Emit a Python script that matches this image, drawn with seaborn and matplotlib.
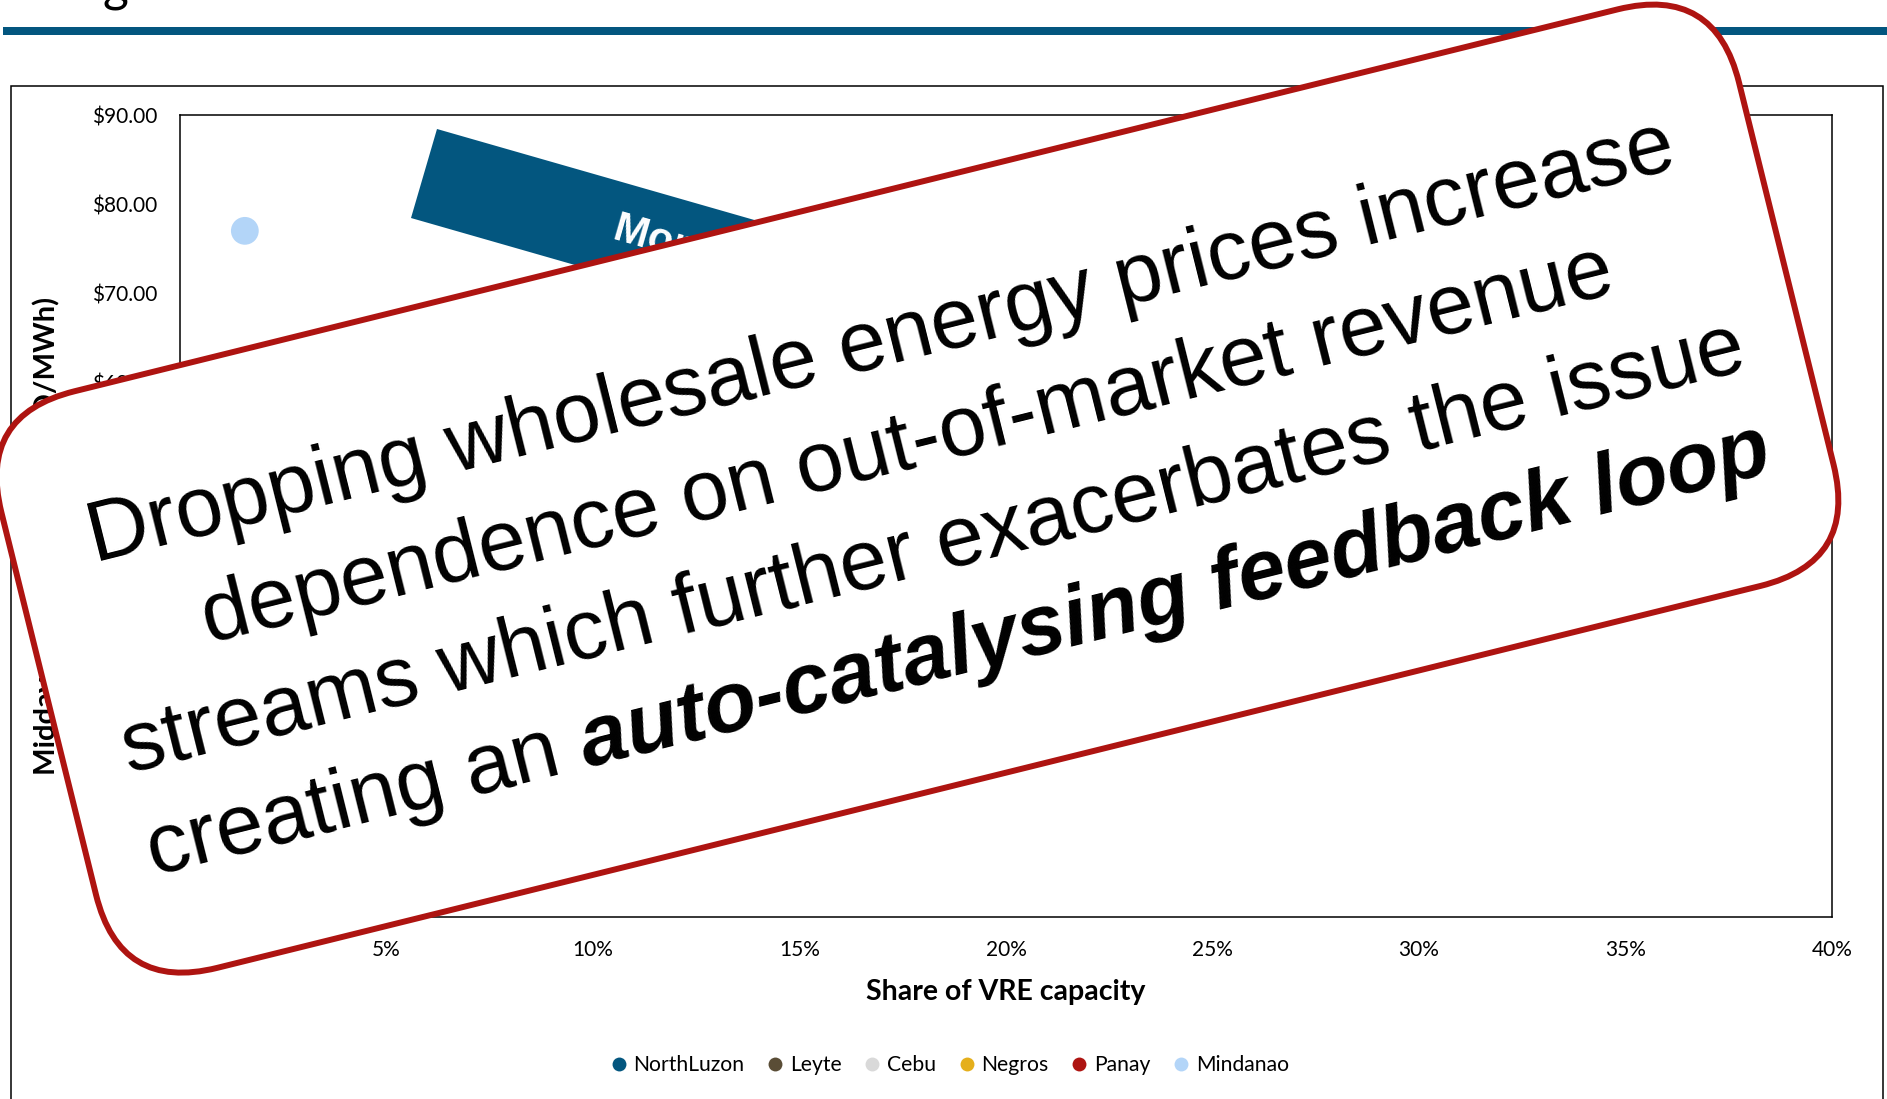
import numpy as np
import pandas as pd
import matplotlib.pyplot as plt
import matplotlib.patches as mpatches
import matplotlib.transforms as mtransforms
from matplotlib.ticker import FuncFormatter
import seaborn as sns

# series (only Mindanao is visible, the rest sit under the callout)
regions = ['NorthLuzon', 'Leyte', 'Cebu', 'Negros', 'Panay', 'Mindanao']
vre_share = [0.12, 0.33, 0.17, 0.22, 0.27, 0.0157]
midday_price = [55.0, 42.0, 48.0, 40.0, 35.0, 77.0]
region_colors = ['#03567F', '#5A4D36', '#D9D9D9', '#E5AF1B', '#AE1411', '#B3D5F8']

x_ticks = [0.0, 0.05, 0.10, 0.15, 0.20, 0.25, 0.30, 0.35, 0.40]
y_ticks = [0, 10, 20, 30, 40, 50, 60, 70, 80, 90]

x_title = 'Share of VRE capacity'
y_title = 'Midday wholesale price (USD/MWh)'
banner_text = 'More VRE, lower midday prices'
callout_lines = [
    [('Dropping wholesale energy prices increase', 'normal', 'normal')],
    [('dependence on out-of-market revenue', 'normal', 'normal')],
    [('streams which further exacerbates the issue', 'normal', 'normal')],
    [('creating an ', 'normal', 'normal'),
     ('auto-catalysing feedback loop', 'bold', 'italic')],
]

df = pd.DataFrame({'region': regions, 'share': vre_share, 'price': midday_price})

sns.set_style('white')
plt.rcParams['font.family'] = ['Lato', 'DejaVu Sans']
plt.rcParams['text.color'] = 'black'
plt.rcParams['axes.labelcolor'] = 'black'
plt.rcParams['xtick.color'] = 'black'
plt.rcParams['ytick.color'] = 'black'

W, H = 1887, 1099
fig = plt.figure(figsize=(W / 100, H / 100), dpi=100)
inch = fig.dpi_scale_trans


def px(x, y):
    # image pixel (y down) -> inches (y up)
    return x / 100, (H - y) / 100


# slide decoration: title remnant, header rule, chart frame
fig.text(102 / W, 1.0, 'g', fontsize=36, va='baseline', ha='left')
fig.patches.append(mpatches.Rectangle(px(3, 35), (W - 3) / 100, 0.08,
                                      transform=inch, color='#03567F', lw=0))
fig.patches.append(mpatches.Rectangle(px(11, 1120), (1883 - 11) / 100, (1120 - 86) / 100,
                                      transform=inch, fill=False, ec='black', lw=1.1))

ax = fig.add_axes([180 / W, 1 - 917 / H, 1652 / W, 802 / H])
sns.scatterplot(data=df, x='share', y='price', hue='region', hue_order=regions,
                palette=region_colors, s=400, linewidth=0, ax=ax, zorder=3)
ax.set_xlim(0, 0.4)
ax.set_ylim(0, 90)
ax.set_xticks(x_ticks)
ax.set_yticks(y_ticks)
ax.xaxis.set_major_formatter(FuncFormatter(lambda v, p: f'{v * 100:.0f}%'))
ax.yaxis.set_major_formatter(FuncFormatter(lambda v, p: f'${v:.2f}'))
ax.tick_params(length=0, pad=16.5, labelsize=15, colors='black')
for sp in ax.spines.values():
    sp.set_visible(True)
    sp.set_color('black')
    sp.set_linewidth(1.1)

ax.set_xlabel(x_title, fontsize=20.5, fontweight='bold')
ax.set_ylabel(y_title, fontsize=21, fontweight='bold')
ax.xaxis.label.set_va('center')
ax.yaxis.label.set_va('center')
ax.xaxis.set_label_coords(0.5, -0.0935)
ax.yaxis.set_label_coords(-0.0811, 0.4757)

sns.move_legend(ax, 'center', bbox_to_anchor=(0.5035, 0.031),
                bbox_transform=fig.transFigure, ncol=6, frameon=False, title=None,
                fontsize=15.2, handlelength=0.7, handletextpad=0.35, columnspacing=1.1)
for h in ax.get_legend().legend_handles:
    if hasattr(h, 'set_markersize'):
        h.set_markersize(10)
    else:
        h.set_sizes([100])

# blue banner arrow (mostly hidden)
ang_b = -16.0
d = np.array([np.cos(np.radians(ang_b)), -np.sin(np.radians(ang_b))])  # image coords
p0, p1 = np.array([437, 129]), np.array([411, 218])
L = 900
corners = [p0, p0 + L * d, p1 + L * d, p1]
fig.patches.append(mpatches.Polygon([px(*c) for c in corners], closed=True,
                                    transform=inch, color='#03567F', lw=0, zorder=0.5))
bx, by = (p0 + p1) / 2 + 198 * d
fig.text(*px(bx, by), banner_text, transform=inch, rotation=ang_b,
         rotation_mode='anchor', ha='left', va='center', color='white',
         fontsize=30, fontweight='bold', family='Liberation Sans', zorder=0.6)

# rotated callout box
theta_box = 13.9
cx, cy = px(917.5, 488.6)
bw, bh = 17.90, 5.94
rot = mtransforms.Affine2D().rotate_deg_around(cx, cy, theta_box) + inch
fig.patches.append(mpatches.FancyBboxPatch((cx - bw / 2, cy - bh / 2), bw, bh,
                                           boxstyle='round,pad=0,rounding_size=1.0',
                                           transform=rot, fc='white', ec='#AE1411',
                                           lw=4.3, zorder=1))

renderer = fig.canvas.get_renderer()
fs = 61.5
theta = 14.0


def text_width(s, weight, style):
    t = fig.text(0, 0, s.rstrip(), fontsize=fs, family='Liberation Sans',
                 fontweight=weight, fontstyle=style)
    w = t.get_window_extent(renderer).width
    t.remove()
    if s != s.rstrip():
        a = fig.text(0, 0, 'n n', fontsize=fs, family='Liberation Sans', fontweight=weight)
        b = fig.text(0, 0, 'nn', fontsize=fs, family='Liberation Sans', fontweight=weight)
        w += (a.get_window_extent(renderer).width - b.get_window_extent(renderer).width) * (len(s) - len(s.rstrip()))
        a.remove()
        b.remove()
    return w / fig.dpi


cx0, cy0 = px(918.5, 491.5)
u = np.array([np.cos(np.radians(theta)), np.sin(np.radians(theta))])
v = np.array([np.sin(np.radians(theta)), -np.cos(np.radians(theta))])
offsets = [-130, -24, 82, 188]
for pieces, off in zip(callout_lines, offsets):
    widths = [text_width(s, wt, st) for s, wt, st in pieces]
    start = np.array([cx0, cy0]) + off / 100 * v - sum(widths) / 2 * u
    for (s, wt, st), w in zip(pieces, widths):
        fig.text(start[0], start[1], s, transform=inch, rotation=theta,
                 rotation_mode='anchor', ha='left', va='baseline', fontsize=fs,
                 family='Liberation Sans', fontweight=wt, fontstyle=st,
                 color='black', zorder=2)
        start = start + w * u

fig.savefig('out.png', dpi=100)
